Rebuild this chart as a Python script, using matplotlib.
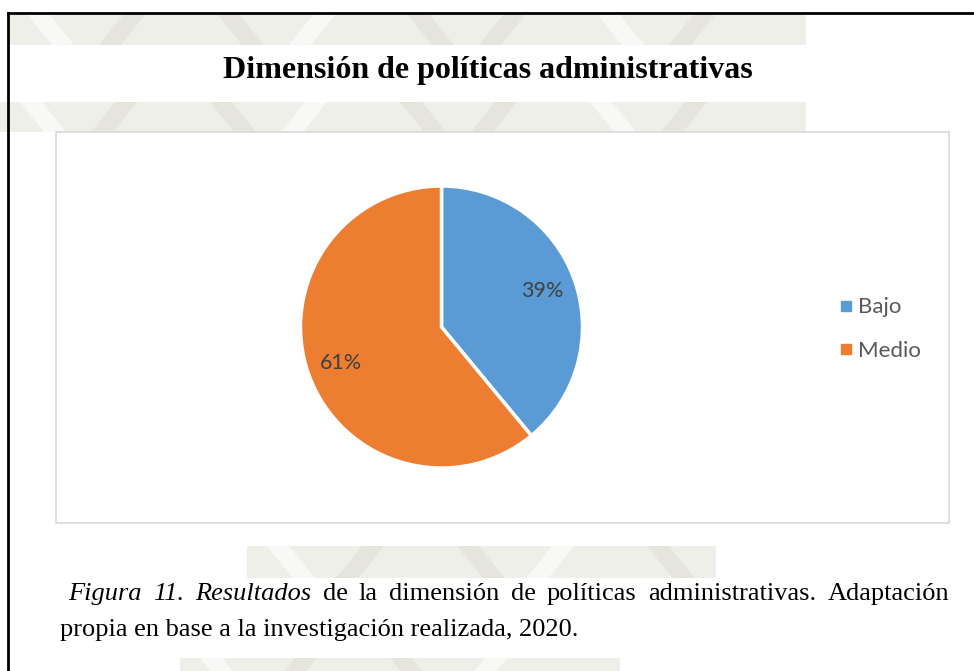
import matplotlib
matplotlib.use('Agg')
import matplotlib.pyplot as plt
from matplotlib.lines import Line2D
from matplotlib.patches import Rectangle, Polygon

# ---------------- data ----------------
categories = ['Bajo', 'Medio']
values = [39, 61]
colors = ['#5B9BD5', '#ED7D31']
title = 'Dimensión de políticas administrativas'
caption_line1 = [('Figura', True), ('11.', True), ('Resultados', True), ('de', False),
                 ('la', False), ('dimensión', False), ('de', False), ('políticas', False),
                 ('administrativas.', False), ('Adaptación', False)]
caption_line2 = 'propia en base a la investigación realizada, 2020.'

W, H = 974, 671
fig = plt.figure(figsize=(W / 100, H / 100), dpi=100)
fig.patch.set_facecolor('white')


def fx(x):
    return x / W


def fy(y):
    return 1 - y / H


# ---------------- faint watermark bands ----------------
bands = [(8, 806, 15, 45), (0, 806, 102, 132), (247, 716, 546, 578), (180, 620, 658, 671)]
for x0, x1, y0, y1 in bands:
    fig.add_artist(Rectangle((fx(x0), fy(y1)), (x1 - x0) / W, (y1 - y0) / H,
                             transform=fig.transFigure, facecolor='#EFEFEA',
                             edgecolor='none', zorder=0))
    step = 95
    k = 0
    xs = x0 + 20
    while xs < x1 - 40:
        h = y1 - y0
        d = h * 0.8 if k % 2 == 0 else -h * 0.8
        col = '#FAFAF8' if k % 3 == 0 else '#E4E4DC'
        pts = [(xs, y0), (xs + 22, y0), (xs + 22 + d, y1), (xs + d, y1)]
        pts = [(fx(min(max(px, x0), x1)), fy(py)) for px, py in pts]
        fig.add_artist(Polygon(pts, closed=True, transform=fig.transFigure,
                               facecolor=col, edgecolor='none', alpha=0.9, zorder=0))
        xs += step
        k += 1

# ---------------- page frame ----------------
fig.add_artist(Line2D([fx(8), fx(974)], [fy(13), fy(13)], transform=fig.transFigure,
                      color='black', linewidth=2.0, zorder=5))
fig.add_artist(Line2D([fx(8), fx(8)], [fy(13), fy(671)], transform=fig.transFigure,
                      color='black', linewidth=2.0, zorder=5))

# ---------------- chart box ----------------
fig.add_artist(Rectangle((fx(56), fy(523)), (949 - 56) / W, (523 - 132) / H,
                         transform=fig.transFigure, facecolor='white',
                         edgecolor='#D9D9D9', linewidth=1.2, zorder=1))

# ---------------- title ----------------
fig.text(fx(488), fy(78), title, ha='center', va='baseline', fontsize=23,
         fontweight='bold', family='Liberation Serif', color='black', zorder=6)

# ---------------- pie ----------------
cx, cy, r = 441.5, 327, 141
ax = fig.add_axes([fx(cx - r), fy(cy + r), 2 * r / W, 2 * r / H])
ax.set_zorder(3)
wedges, texts, autotexts = ax.pie(
    values, colors=colors, startangle=90, counterclock=False,
    wedgeprops=dict(edgecolor='white', linewidth=2.5),
    autopct='%.0f%%', pctdistance=0.76,
    textprops=dict(fontsize=15.5, family='Lato', color='#404040'))
ax.set_xlim(-1.0, 1.0)
ax.set_ylim(-1.0, 1.0)
ax.set_aspect('equal')
ax.axis('off')

# ---------------- legend ----------------
handles = [Line2D([], [], marker='s', linestyle='', markersize=6.5,
                  markerfacecolor=c, markeredgecolor=c) for c in colors]
fig.legend(handles, categories, loc='center left', bbox_to_anchor=(fx(820), fy(329)),
           frameon=False, prop=dict(family='Lato', size=16), labelcolor='#595959',
           handlelength=0.5, handletextpad=0.3, labelspacing=1.05, borderpad=0.4)

# ---------------- caption ----------------
cap_size = 19
renderer = fig.canvas.get_renderer()
left1, right1, base1 = 68, 949, 600
items = []
total = 0
for word, ital in caption_line1:
    t = fig.text(0, fy(base1), word, fontsize=cap_size, family='Liberation Serif',
                 style='italic' if ital else 'normal', va='baseline', ha='left', zorder=6)
    wpx = t.get_window_extent(renderer).width
    items.append((t, wpx))
    total += wpx
gap = (right1 - left1 - total) / (len(items) - 1)
xpos = left1
for t, wpx in items:
    t.set_x(fx(xpos))
    xpos += wpx + gap

fig.text(fx(60), fy(636), caption_line2, fontsize=cap_size, family='Liberation Serif',
         va='baseline', ha='left', zorder=6)

fig.savefig('out.png', dpi=100, facecolor='white')
